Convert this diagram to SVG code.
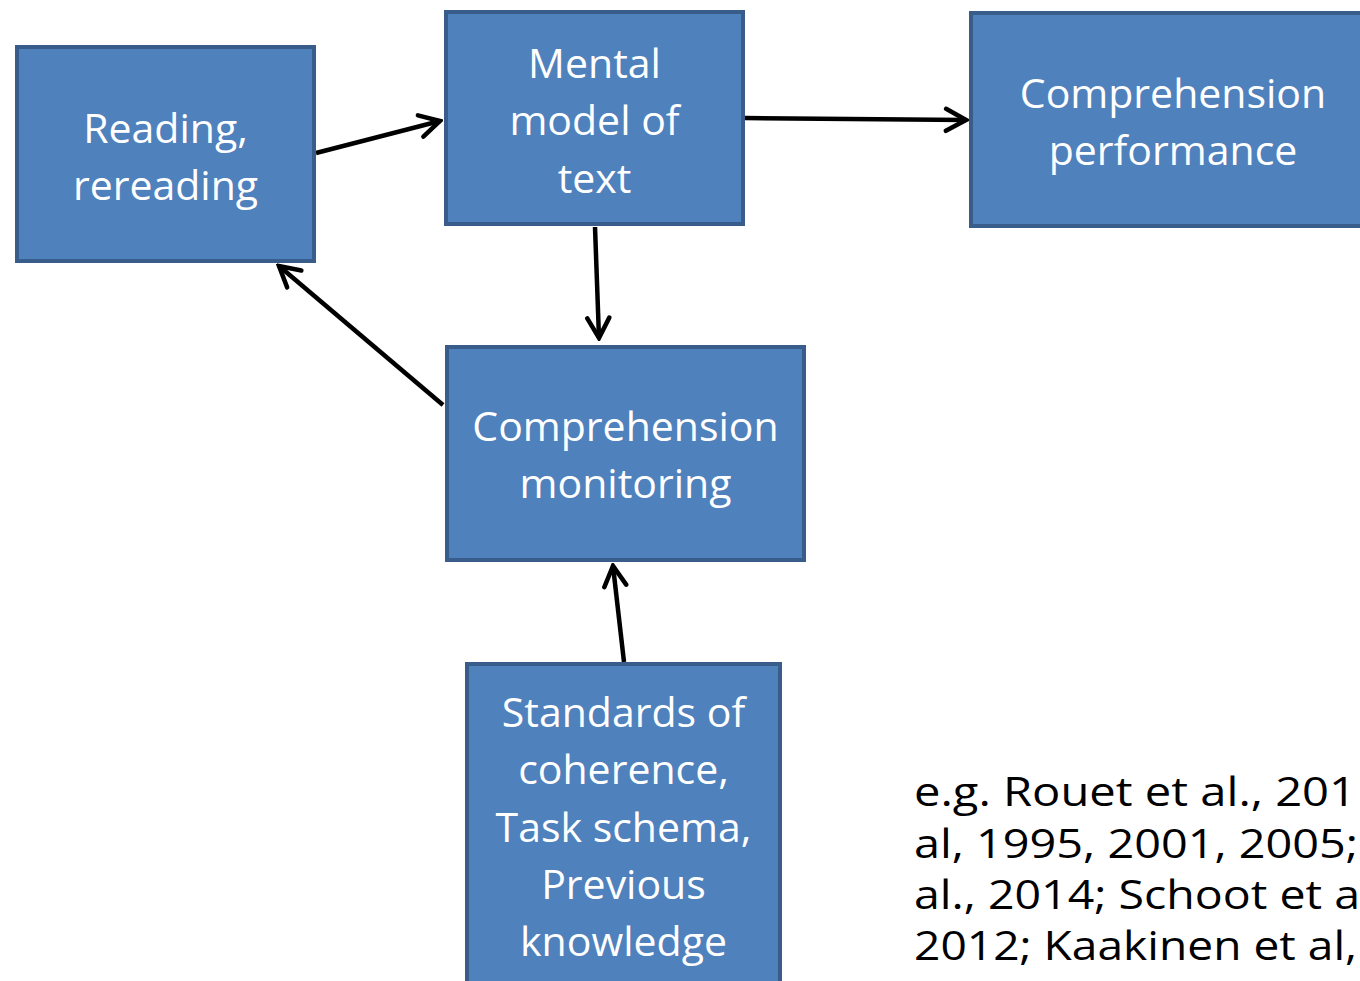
<svg xmlns="http://www.w3.org/2000/svg" width="1360" height="981" viewBox="0 0 1360 981">
<defs>
<style>
.box{fill:#4f81bd;stroke:#385d8a;stroke-width:4}
.lbl{font-family:"Open Sans","Noto Sans",sans-serif;font-size:41px;fill:#ffffff;text-anchor:middle}
.cite{font-family:"Open Sans","Noto Sans",sans-serif;font-size:41px;fill:#000000}
.conn{stroke:#000000;stroke-width:4.5;fill:none;marker-end:url(#arr)}
</style>
<marker id="arr" markerUnits="userSpaceOnUse" viewBox="0 0 26 28" refX="23" refY="14" markerWidth="26" markerHeight="28" orient="auto">
<path d="M3,3 L23,14 L3,25" fill="none" stroke="#000000" stroke-width="4.5" stroke-linecap="round" stroke-linejoin="miter"/>
</marker>
</defs>
<rect width="1360" height="981" fill="#ffffff"/>
<g id="connectors">
<line class="conn" x1="316" y1="153" x2="440" y2="121"/>
<line class="conn" x1="745" y1="118" x2="966" y2="120"/>
<line class="conn" x1="595" y1="227" x2="599" y2="338"/>
<line class="conn" x1="443" y1="405" x2="279" y2="266"/>
<line class="conn" x1="624" y1="662" x2="613" y2="566"/>
</g>
<g id="reading">
<rect class="box" x="17" y="47" width="297" height="214"/>
<text class="lbl" x="165.5" y="143">Reading,</text>
<text class="lbl" x="165.5" y="200">rereading</text>
</g>
<g id="mental-model">
<rect class="box" x="446" y="12" width="297" height="212"/>
<text class="lbl" x="594.5" y="78">Mental</text>
<text class="lbl" x="594.5" y="135">model of</text>
<text class="lbl" x="594.5" y="193">text</text>
</g>
<g id="comprehension-performance">
<rect class="box" x="971" y="13" width="500" height="213"/>
<text class="lbl" x="1173" y="108">Comprehension</text>
<text class="lbl" x="1173" y="165">performance</text>
</g>
<g id="comprehension-monitoring">
<rect class="box" x="447" y="347" width="357" height="213"/>
<text class="lbl" x="625.5" y="441">Comprehension</text>
<text class="lbl" x="625.5" y="498">monitoring</text>
</g>
<g id="standards">
<rect class="box" x="467" y="664" width="313" height="400"/>
<text class="lbl" x="623.5" y="727">Standards of</text>
<text class="lbl" x="623.5" y="784">coherence,</text>
<text class="lbl" x="623.5" y="842">Task schema,</text>
<text class="lbl" x="623.5" y="899">Previous</text>
<text class="lbl" x="623.5" y="956">knowledge</text>
</g>
<g id="citation">
<text class="cite" x="914" y="806" textLength="442" lengthAdjust="spacingAndGlyphs">e.g. Rouet et al., 201</text>
<text class="cite" x="914" y="858" textLength="444" lengthAdjust="spacingAndGlyphs">al, 1995, 2001, 2005;</text>
<text class="cite" x="914" y="909" textLength="446" lengthAdjust="spacingAndGlyphs">al., 2014; Schoot et a</text>
<text class="cite" x="914" y="960" textLength="443" lengthAdjust="spacingAndGlyphs">2012; Kaakinen et al,</text>
</g>
</svg>
